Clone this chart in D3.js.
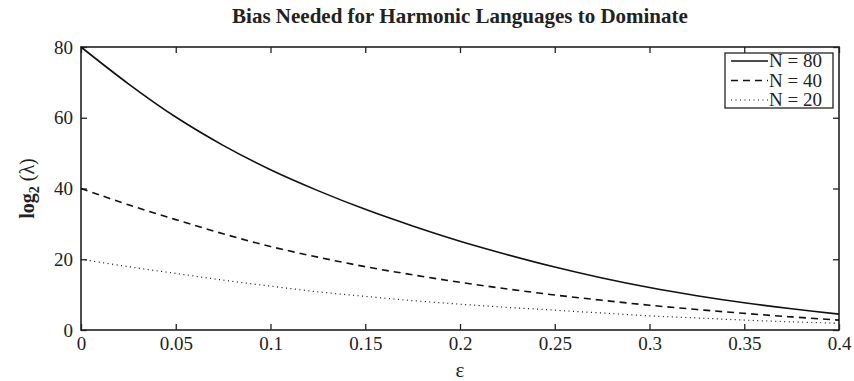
<!DOCTYPE html>
<html>
<head>
<meta charset="utf-8">
<script src="https://cdn.jsdelivr.net/npm/d3@7"></script>
<style>
  body { margin: 0; background: #fff; }
  svg text { font-family: "Liberation Serif", "Times New Roman", "DejaVu Serif", serif; }
</style>
</head>
<body>
<svg width="854" height="381"></svg>
<script>
// data
const epsilon = [0, 0.025, 0.05, 0.075, 0.1, 0.125, 0.15, 0.175, 0.2, 0.225, 0.25, 0.275, 0.3, 0.325, 0.35, 0.375, 0.4];
const n80 = [80, 69.6, 60.2, 52.2, 45.3, 39.4, 34.1, 29.4, 25.1, 21.3, 17.8, 14.7, 12.0, 9.7, 7.7, 6.0, 4.5];
const n40 = [40, 35.4, 31.2, 27.2, 23.6, 20.6, 17.9, 15.6, 13.5, 11.6, 9.9, 8.4, 7.0, 5.8, 4.7, 3.7, 2.8];
const n20 = [20, 17.9, 16.0, 14.1, 12.4, 10.8, 9.5, 8.3, 7.3, 6.4, 5.6, 4.8, 4.0, 3.4, 2.8, 2.3, 1.9];
const seriesNames = ['N = 80', 'N = 40', 'N = 20'];
const xTicks = [0, 0.05, 0.1, 0.15, 0.2, 0.25, 0.3, 0.35, 0.4];
const yTicks = [0, 20, 40, 60, 80];

const margin = { left: 81, right: 15, top: 47, bottom: 51 };
const svg = d3.select('svg');
const width = 854 - margin.left - margin.right;
const height = 381 - margin.top - margin.bottom;

const g = svg.append('g').attr('transform', `translate(${margin.left}, ${margin.top})`);

const xScale = d3.scaleLinear().domain([0, 0.4]).range([0, width]);
const yScale = d3.scaleLinear().domain([0, 80]).range([height, 0]);

const fmt = d => d === 0 ? '0' : String(d);
const tickLen = 6;

// axes, ticks pointing inward
g.append('g').attr('transform', `translate(0, ${height})`)
  .call(d3.axisBottom(xScale).tickValues(xTicks).tickFormat(fmt).tickSizeInner(-tickLen).tickSizeOuter(0).tickPadding(7));
g.append('g')
  .call(d3.axisLeft(yScale).tickValues(yTicks).tickFormat(fmt).tickSizeInner(-tickLen).tickSizeOuter(0).tickPadding(8));
g.append('g')
  .call(d3.axisTop(xScale).tickValues(xTicks).tickFormat('').tickSizeInner(-tickLen).tickSizeOuter(0));
g.append('g').attr('transform', `translate(${width}, 0)`)
  .call(d3.axisRight(yScale).tickValues(yTicks).tickFormat('').tickSizeInner(-tickLen).tickSizeOuter(0));

g.selectAll('.domain').remove();
g.selectAll('g').attr('font-family', null);
g.selectAll('.tick line').attr('stroke', '#222').attr('stroke-width', 1.3);
g.selectAll('.tick text').attr('font-size', 19).attr('fill', '#222');

// box
g.append('rect')
  .attr('width', width).attr('height', height)
  .attr('fill', 'none').attr('stroke', '#222').attr('stroke-width', 1.6);

// lines
const styles = [
  { dash: null, w: 1.6 },
  { dash: '7,5', w: 1.6 },
  { dash: '1,3.5', w: 1.2 }
];
const allSeries = [n80, n40, n20];
const line = d3.line()
  .x((d, i) => xScale(epsilon[i]))
  .y(d => yScale(d))
  .curve(d3.curveCatmullRom);

allSeries.forEach((vals, k) => {
  g.append('path')
    .datum(vals)
    .attr('d', line)
    .attr('fill', 'none')
    .attr('stroke', '#111')
    .attr('stroke-width', styles[k].w)
    .attr('stroke-dasharray', styles[k].dash);
});

// legend
const lg = svg.append('g').attr('transform', 'translate(725, 53)');
lg.append('rect').attr('width', 108).attr('height', 55)
  .attr('fill', '#fff').attr('stroke', '#222').attr('stroke-width', 1.3);
seriesNames.forEach((name, k) => {
  const yy = 8 + k * 19.5;
  lg.append('line')
    .attr('x1', 6).attr('x2', 43).attr('y1', yy).attr('y2', yy)
    .attr('stroke', '#111').attr('stroke-width', styles[k].w)
    .attr('stroke-dasharray', styles[k].dash);
  lg.append('text')
    .attr('x', 44).attr('y', yy + 6)
    .attr('font-size', 19).attr('fill', '#222')
    .text(name);
});

// title
svg.append('text')
  .attr('x', margin.left + width / 2).attr('y', 23)
  .attr('text-anchor', 'middle')
  .attr('font-size', 21).attr('font-weight', 'bold').attr('fill', '#222')
  .text('Bias Needed for Harmonic Languages to Dominate');

// x label
svg.append('text')
  .attr('x', margin.left + width / 2).attr('y', 377)
  .attr('text-anchor', 'middle')
  .attr('font-size', 21).attr('fill', '#222')
  .text('ε');

// y label
const yl = svg.append('text')
  .attr('transform', `translate(34, ${margin.top + height / 2}) rotate(-90)`)
  .attr('text-anchor', 'middle')
  .attr('font-size', 20).attr('font-weight', 'bold').attr('fill', '#222');
yl.append('tspan').text('log');
yl.append('tspan').attr('font-size', 14).attr('dy', 5).text('2');
yl.append('tspan').attr('dy', -5).attr('font-weight', 'normal').text(' (λ)');
</script>
</body>
</html>
